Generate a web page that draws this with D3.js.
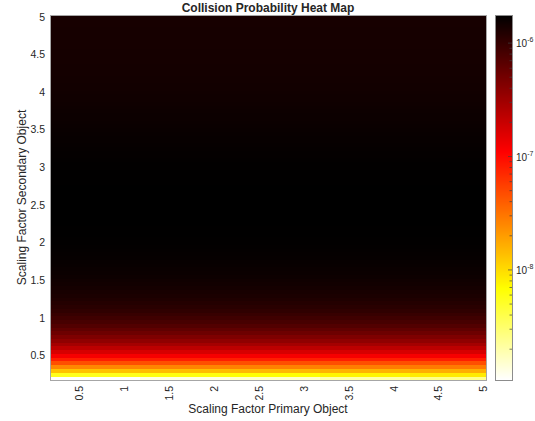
<!DOCTYPE html>
<html>
<head>
<meta charset="utf-8">
<script src="https://cdn.jsdelivr.net/npm/d3@7"></script>
<style>
  body { margin: 0; background: #fff; }
  text { font-family: "Liberation Sans", Arial, Helvetica, sans-serif; fill: #262626; }
</style>
</head>
<body>
<svg id="chart" width="535" height="421"></svg>
<script>
// Grid of scaling factors (0.20 : 0.05 : 5.00) on both axes
const primaryScale = d3.range(97).map(i => +(0.2 + i * 0.05).toFixed(2));
const secondaryScale = d3.range(97).map(i => +(0.2 + i * 0.05).toFixed(2));

// Collision probability for each secondary scaling factor (row), 0.20 -> 5.00
const pcBySecondary = [
  1.07e-9, 5.50e-9, 1.32e-8, 2.51e-8, 4.68e-8, 7.94e-8, 1.20e-7, 1.70e-7, 2.29e-7, 2.95e-7,
  3.72e-7, 4.47e-7, 5.37e-7, 6.31e-7, 7.24e-7, 8.13e-7, 8.91e-7, 9.77e-7, 1.060e-6, 1.135e-6,
  1.200e-6, 1.260e-6, 1.320e-6, 1.365e-6, 1.410e-6, 1.455e-6, 1.490e-6, 1.530e-6, 1.565e-6, 1.590e-6,
  1.620e-6, 1.640e-6, 1.660e-6, 1.680e-6, 1.700e-6, 1.715e-6, 1.726e-6,
  1.738e-6, 1.746e-6, 1.754e-6, 1.758e-6, 1.762e-6, 1.766e-6, 1.766e-6, 1.770e-6, 1.770e-6, 1.770e-6,
  1.770e-6, 1.770e-6, 1.766e-6, 1.766e-6, 1.762e-6, 1.758e-6, 1.754e-6, 1.750e-6, 1.742e-6, 1.734e-6,
  1.726e-6, 1.714e-6, 1.702e-6, 1.690e-6, 1.679e-6, 1.663e-6, 1.648e-6, 1.633e-6, 1.618e-6, 1.603e-6,
  1.589e-6, 1.574e-6, 1.560e-6, 1.545e-6, 1.531e-6, 1.517e-6, 1.503e-6, 1.493e-6, 1.479e-6, 1.469e-6,
  1.459e-6, 1.449e-6, 1.442e-6, 1.435e-6, 1.429e-6, 1.422e-6, 1.416e-6, 1.413e-6, 1.409e-6, 1.406e-6,
  1.403e-6, 1.400e-6, 1.396e-6, 1.393e-6, 1.390e-6, 1.387e-6, 1.387e-6, 1.384e-6, 1.384e-6, 1.380e-6
];

// The lowest rows also depend on the primary scaling factor: values per primary block
const primaryBlockStarts = [0.2, 1.2, 2.2, 3.2, 4.2];
const lowRowSecondary = [0.2, 0.25, 0.3, 0.35];
const lowRowPc = [
  [1.07e-9, 1.30e-9, 1.60e-9, 2.00e-9, 2.50e-9],
  [5.50e-9, 6.10e-9, 6.80e-9, 7.60e-9, 8.50e-9],
  [1.32e-8, 1.40e-8, 1.48e-8, 1.56e-8, 1.65e-8],
  [2.51e-8, 2.60e-8, 2.70e-8, 2.80e-8, 2.90e-8]
];

const xTicks = [0.5, 1, 1.5, 2, 2.5, 3, 3.5, 4, 4.5, 5];
const yTicks = [0.5, 1, 1.5, 2, 2.5, 3, 3.5, 4, 4.5, 5];
const colorbarExponents = [-8, -7, -6];

// Build the full matrix from the row profile and the low-row blocks
const cells = [];
secondaryScale.forEach((s, i) => {
  const lowIdx = lowRowSecondary.indexOf(s);
  primaryScale.forEach(p => {
    let v = pcBySecondary[i];
    if (lowIdx >= 0) {
      const b = d3.bisectRight(primaryBlockStarts, p + 1e-9) - 1;
      v = lowRowPc[lowIdx][b];
    }
    cells.push({ p, s, v });
  });
});

const half = 0.025;
const svg = d3.select("#chart");
const M = { left: 50, right: 486, top: 15, bottom: 380 };

const x = d3.scaleLinear().domain([0.2 - half, 5 + half]).range([M.left, M.right]);
const y = d3.scaleLinear().domain([0.2 - half, 5 + half]).range([M.bottom, M.top]);

const [vmin, vmax] = d3.extent(cells, d => d.v);
const logNorm = d3.scaleLog().domain([vmin, vmax]).range([0, 1]).clamp(true);

// Reversed "hot" colormap: high values black, low values white
function hot(t) {
  const c = v => Math.max(0, Math.min(1, v));
  const r = c(t / 0.375), g = c((t - 0.375) / 0.375), b = c((t - 0.75) / 0.25);
  return d3.rgb(r * 255, g * 255, b * 255).toString();
}
const color = v => hot(1 - logNorm(v));

// Heat map cells
svg.append("g").attr("shape-rendering", "crispEdges")
  .selectAll("rect").data(cells).join("rect")
  .attr("x", d => x(d.p - half))
  .attr("y", d => y(d.s + half))
  .attr("width", d => x(d.p + half) - x(d.p - half) + 0.3)
  .attr("height", d => y(d.s - half) - y(d.s + half) + 0.3)
  .attr("fill", d => color(d.v));

// Axes box
svg.append("rect")
  .attr("x", M.left).attr("y", M.top)
  .attr("width", M.right - M.left).attr("height", M.bottom - M.top)
  .attr("fill", "none").attr("stroke", "#a6a6a6").attr("stroke-width", 1)
  .attr("shape-rendering", "crispEdges");

// Y tick labels
svg.append("g").selectAll("text").data(yTicks).join("text")
  .attr("x", 45).attr("y", d => y(d)).attr("dy", "0.35em")
  .attr("text-anchor", "end").attr("font-size", 10.5)
  .text(d => d);

// X tick labels, rotated
svg.append("g").selectAll("text").data(xTicks).join("text")
  .attr("transform", d => `translate(${x(d)},386) rotate(-90)`)
  .attr("dy", "0.35em")
  .attr("text-anchor", "end").attr("font-size", 10.5)
  .text(d => d);

// Axis titles
svg.append("text").attr("x", (M.left + M.right) / 2).attr("y", 413)
  .attr("text-anchor", "middle").attr("font-size", 12)
  .text("Scaling Factor Primary Object");
svg.append("text")
  .attr("transform", `translate(26,${(M.top + M.bottom) / 2}) rotate(-90)`)
  .attr("text-anchor", "middle").attr("font-size", 12)
  .text("Scaling Factor Secondary Object");
svg.append("text").attr("x", (M.left + M.right) / 2).attr("y", 12)
  .attr("text-anchor", "middle").attr("font-size", 12).attr("font-weight", "bold")
  .text("Collision Probability Heat Map");

// Colorbar
const cb = { left: 495, right: 512 };
const cy = d3.scaleLog().domain([vmin, vmax]).range([M.bottom, M.top]);
const steps = d3.range(M.top, M.bottom);
svg.append("g").attr("shape-rendering", "crispEdges")
  .selectAll("rect").data(steps).join("rect")
  .attr("x", cb.left).attr("y", d => d)
  .attr("width", cb.right - cb.left).attr("height", 1.2)
  .attr("fill", d => color(cy.invert(d + 0.5)));
svg.append("rect")
  .attr("x", cb.left).attr("y", M.top)
  .attr("width", cb.right - cb.left).attr("height", M.bottom - M.top)
  .attr("fill", "none").attr("stroke", "#8c8c8c").attr("stroke-width", 1)
  .attr("shape-rendering", "crispEdges");

// Colorbar ticks (major at decades, minor at 2..9 multiples)
const minorTicks = [];
for (let e = -10; e <= -5; e++) for (let m = 1; m <= 9; m++) {
  const v = m * Math.pow(10, e);
  if (v >= vmin && v <= vmax) minorTicks.push({ v, major: m === 1 });
}
svg.append("g").selectAll("line").data(minorTicks).join("line")
  .attr("x1", cb.right).attr("x2", d => cb.right - (d.major ? 4 : 2.5))
  .attr("y1", d => cy(d.v)).attr("y2", d => cy(d.v))
  .attr("stroke", "#404040").attr("stroke-width", 0.7);

const cbLabels = svg.append("g").selectAll("text").data(colorbarExponents).join("text")
  .attr("x", 516).attr("y", d => cy(Math.pow(10, d)) + 4)
  .attr("font-size", 10);
cbLabels.append("tspan").text("10");
cbLabels.append("tspan").attr("dy", -5).attr("font-size", 7).text(d => d);
</script>
</body>
</html>
